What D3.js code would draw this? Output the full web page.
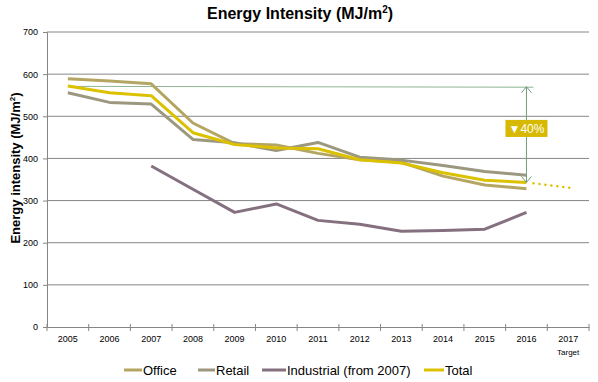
<!DOCTYPE html>
<html>
<head>
<meta charset="utf-8">
<script src="https://cdn.jsdelivr.net/npm/d3@7"></script>
<style>
  body { margin: 0; background: #fff; }
  svg text { font-family: "Liberation Sans", Arial, sans-serif; }
</style>
</head>
<body>
<script>
const w = 598;
const h = 382;
const margin = { top: 32, right: 9, bottom: 55, left: 47 };

const years = ["2005", "2006", "2007", "2008", "2009", "2010", "2011", "2012", "2013", "2014", "2015", "2016", "2017"];
const office = [589, 584, 577, 484, 435, 432, 412, 397, 391, 358, 337, 328];
const retail = [556, 533, 529, 445, 437, 419, 438, 403, 396, 383, 369, 360];
const industrial = [null, null, 382, 327, 272, 292, 253, 244, 227, 229, 232, 272];
const total = [572, 556, 549, 461, 433, 425, 423, 397, 389, 366, 348, 343];
const target = 330;
const baseline = 571;
const yTicks = [0, 100, 200, 300, 400, 500, 600, 700];

const series = [
  { name: "Office", values: office, color: "#b5a563" },
  { name: "Retail", values: retail, color: "#9c9880" },
  { name: "Industrial (from 2007)", values: industrial, color: "#85707f" },
  { name: "Total", values: total, color: "#dcc100" }
];

const svg = d3.select("body").append("svg").attr("width", w).attr("height", h);

const x = d3.scaleBand().domain(years).range([margin.left, w - margin.right]);
const y = d3.scaleLinear().domain([0, 700]).range([h - margin.bottom, margin.top]);
const cx = (i) => x(years[i]) + x.bandwidth() / 2;

// title
const title = svg.append("text")
  .attr("x", 300).attr("y", 19)
  .attr("text-anchor", "middle")
  .attr("font-size", 16).attr("font-weight", "bold")
  .text("Energy Intensity (MJ/m");
title.append("tspan").attr("font-size", 10).attr("dy", -6).text("2");
title.append("tspan").attr("dy", 6).text(")");

// gridlines
svg.append("g")
  .selectAll("line")
  .data(yTicks.slice(1))
  .enter()
  .append("line")
  .attr("x1", margin.left).attr("x2", w - margin.right)
  .attr("y1", (d) => y(d)).attr("y2", (d) => y(d))
  .attr("stroke", "#868686").attr("stroke-width", 1);

// y axis
const yAxis = svg.append("g")
  .attr("transform", `translate(${margin.left},0)`)
  .call(d3.axisLeft(y).tickValues(yTicks).tickSize(4).tickPadding(5));
yAxis.attr("font-family", null);
yAxis.selectAll("path, line").attr("stroke", "#868686");
yAxis.selectAll("text").attr("font-size", 9).attr("fill", "#000");

// x axis
const xAxis = svg.append("g")
  .attr("transform", `translate(0,${h - margin.bottom})`)
  .call(d3.axisBottom(x).tickSize(0).tickPadding(9));
xAxis.attr("font-family", null);
xAxis.select(".domain").attr("stroke", "#868686");
xAxis.selectAll("text").attr("font-size", 9).attr("fill", "#000");
xAxis.selectAll(".tick").filter((d) => d === "2017")
  .append("text")
  .attr("y", 22).attr("dy", "0.71em")
  .attr("font-size", 8).attr("fill", "#000").attr("text-anchor", "middle")
  .text("Target");
// tick marks between categories
svg.append("g")
  .selectAll("line")
  .data(d3.range(years.length + 1))
  .enter()
  .append("line")
  .attr("x1", (i) => margin.left + i * x.step())
  .attr("x2", (i) => margin.left + i * x.step())
  .attr("y1", h - margin.bottom - 3).attr("y2", h - margin.bottom + 4)
  .attr("stroke", "#868686");

// y axis label
const ylab = svg.append("text")
  .attr("transform", `translate(20,168) rotate(-90)`)
  .attr("text-anchor", "middle")
  .attr("font-size", 13).attr("font-weight", "bold")
  .text("Energy intensity (MJ/m");
ylab.append("tspan").attr("font-size", 8).attr("dy", -5).text("2");
ylab.append("tspan").attr("dy", 5).text(")");

// baseline reference line
svg.append("line")
  .attr("x1", cx(0)).attr("x2", cx(11) + 7)
  .attr("y1", y(baseline)).attr("y2", y(baseline - 2))
  .attr("stroke", "#8fb594").attr("stroke-width", 1);

// series lines
const line = d3.line()
  .defined((d) => d != null)
  .x((d, i) => cx(i))
  .y((d) => y(d));

svg.append("g")
  .selectAll("path")
  .data(series)
  .enter()
  .append("path")
  .attr("d", (d) => line(d.values))
  .attr("fill", "none")
  .attr("stroke", (d) => d.color)
  .attr("stroke-width", 3)
  .attr("stroke-linejoin", "round");

// dotted target line
svg.append("line")
  .attr("x1", cx(11) + 7).attr("x2", cx(12) + 3)
  .attr("y1", y(total[11] - 2)).attr("y2", y(target))
  .attr("stroke", "#dcc100").attr("stroke-width", 2.5)
  .attr("stroke-dasharray", "0.1,5.9").attr("stroke-linecap", "round");

// reduction arrow
const ax = cx(11);
const y1 = y(baseline - 1);
const y2 = y(total[11]);
const arrow = svg.append("g").attr("stroke", "#6f9d77").attr("fill", "none").attr("stroke-width", 1);
arrow.append("line").attr("x1", ax).attr("x2", ax).attr("y1", y1).attr("y2", y2);
arrow.append("path").attr("d", `M${ax - 5},${y1 + 6}L${ax},${y1}L${ax + 5},${y1 + 6}`);
arrow.append("path").attr("d", `M${ax - 5},${y2 - 6}L${ax},${y2}L${ax + 5},${y2 - 6}`);

const boxY = y(470);
svg.append("rect")
  .attr("x", ax - 21).attr("y", boxY - 9)
  .attr("width", 42).attr("height", 17)
  .attr("fill", "#d6b900");
svg.append("text")
  .attr("x", ax).attr("y", boxY + 4)
  .attr("text-anchor", "middle")
  .attr("font-size", 12).attr("fill", "#fff")
  .text("\u25BC40%");

// legend
const legendItems = [
  { x: 124, tx: 19, s: series[0] },
  { x: 198, tx: 18, s: series[1] },
  { x: 262, tx: 25, s: series[2] },
  { x: 424, tx: 21, s: series[3] }
];
const legend = svg.append("g").attr("transform", `translate(0,370)`);
const li = legend.selectAll("g").data(legendItems).enter().append("g")
  .attr("transform", (d) => `translate(${d.x},0)`);
li.append("line")
  .attr("x1", 0).attr("x2", (d) => d.tx - 1).attr("y1", 0).attr("y2", 0)
  .attr("stroke", (d) => d.s.color).attr("stroke-width", 3);
li.append("text")
  .attr("x", (d) => d.tx)
  .attr("y", 4.5)
  .attr("font-size", 13)
  .text((d) => d.s.name);
</script>
</body>
</html>
